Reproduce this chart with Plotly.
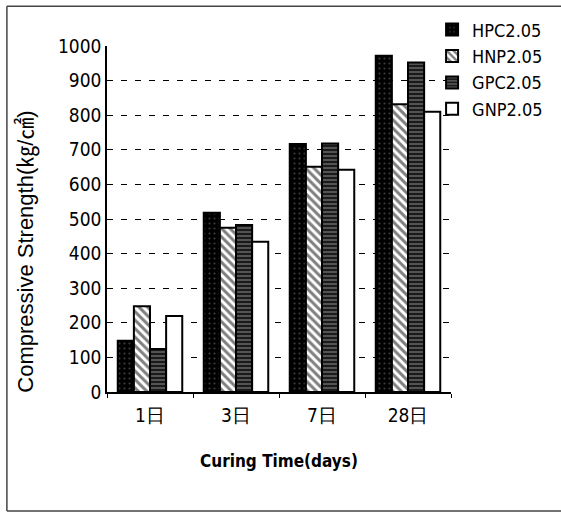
import plotly.graph_objects as go

# Compressive strength by curing age
ages = ["1日", "3日", "7日", "28日"]
series_names = ["HPC2.05", "HNP2.05", "GPC2.05", "GNP2.05"]
hpc = [148, 518, 717, 972]
hnp = [248, 475, 651, 832]
gpc = [124, 483, 718, 952]
gnp = [220, 434, 642, 810]
y_ticks = [0, 100, 200, 300, 400, 500, 600, 700, 800, 900, 1000]

narrow = "DejaVu Sans Condensed, Liberation Sans Narrow, Arial Narrow, sans-serif"

styles = [
    dict(color="black", pattern=dict(shape=".", fgcolor="#777777", bgcolor="black", size=5, solidity=0.15)),
    dict(color="white", pattern=dict(shape="\\", fgcolor="black", bgcolor="white", size=6, solidity=0.5)),
    dict(color="#222222", pattern=dict(shape="-", fgcolor="#bbbbbb", bgcolor="#1a1a1a", size=4, solidity=0.35)),
    dict(color="white", pattern=dict(shape="")),
]

fig = go.Figure()
for name, vals, st in zip(series_names, [hpc, hnp, gpc, gnp], styles):
    fig.add_trace(go.Bar(
        x=ages, y=vals, name=name,
        marker=dict(color=st["color"], pattern=st["pattern"],
                    line=dict(color="black", width=2)),
    ))

# outer frame lines (paper coordinates relative to the plot area)
frame = dict(color="#444444", width=1.5)
shapes = [
    dict(type="line", xref="paper", yref="paper", x0=-0.291, x1=-0.291, y0=-0.344, y1=1.115, line=frame),
    dict(type="line", xref="paper", yref="paper", x0=-0.291, x1=1.32, y0=1.115, y1=1.115, line=frame),
    dict(type="line", xref="paper", yref="paper", x0=-0.291, x1=1.32, y0=-0.344, y1=-0.344, line=frame),
]

fig.update_layout(
    width=561, height=513,
    margin=dict(l=107, r=110, t=46, b=121, autoexpand=False),
    paper_bgcolor="white", plot_bgcolor="white",
    barmode="group", bargap=0.25, bargroupgap=0,
    showlegend=True,
    legend=dict(x=0.945, y=1.10, xanchor="left", yanchor="top",
                font=dict(family=narrow, size=18, color="black"),
                itemwidth=30, bgcolor="rgba(0,0,0,0)"),
    shapes=shapes,
    annotations=[dict(
        text="Compressive Strength(㎏/㎠)", textangle=-90,
        xref="paper", yref="paper", x=-0.233, y=0.405,
        xanchor="center", yanchor="middle", showarrow=False,
        font=dict(family="Liberation Sans, Arial, Noto Sans CJK JP, sans-serif", size=22, color="black"),
    )],
    xaxis=dict(
        showline=True, linecolor="black", linewidth=1.5,
        ticks="outside", ticklen=4, tickcolor="black", tickson="boundaries",
        ticklabelstandoff=5,
        tickfont=dict(family=narrow, size=19, color="black"),
        title=dict(text="<b>Curing Time(days)</b>",
                   font=dict(family=narrow, size=17, color="black"), standoff=31),
    ),
    yaxis=dict(
        range=[0, 1000], tickvals=y_ticks,
        showline=True, linecolor="black", linewidth=1.5,
        ticks="inside", ticklen=4, tickcolor="black",
        showgrid=True, gridcolor="black", gridwidth=1, griddash="6px,8px",
        zeroline=False,
        tickfont=dict(family=narrow, size=19, color="black"),
    ),
)

fig.write_html("out.html")
